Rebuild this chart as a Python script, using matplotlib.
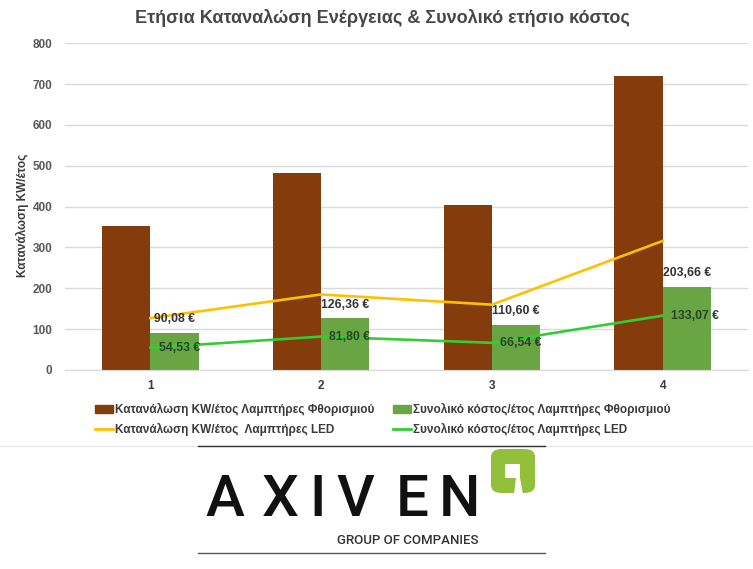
import matplotlib
matplotlib.use("Agg")
import matplotlib.pyplot as plt
import numpy as np
from matplotlib.patches import Patch, FancyBboxPatch, Rectangle, Polygon
from matplotlib.lines import Line2D

plt.rcParams['font.family'] = ['Liberation Sans', 'DejaVu Sans']

# ---------------- data ----------------
categories = ['1', '2', '3', '4']
fluo_kwh = [352, 483, 404, 720]             # Κατανάλωση KW/έτος Λαμπτήρες Φθορισμιού
fluo_cost = [90.08, 126.36, 110.60, 203.66]  # Συνολικό κόστος/έτος Λαμπτήρες Φθορισμιού
led_kwh = [127, 185, 160, 316]               # Κατανάλωση KW/έτος Λαμπτήρες LED
led_cost = [54.53, 81.80, 66.54, 133.07]     # Συνολικό κόστος/έτος Λαμπτήρες LED
yticks = [0, 100, 200, 300, 400, 500, 600, 700, 800]

series_names = ['Κατανάλωση KW/έτος Λαμπτήρες Φθορισμιού',
                'Συνολικό κόστος/έτος Λαμπτήρες Φθορισμιού',
                'Κατανάλωση KW/έτος  Λαμπτήρες LED',
                'Συνολικό κόστος/έτος Λαμπτήρες LED']

BROWN = '#843c0c'
GREEN = '#6aa544'
YELLOW = '#ffc000'
LGREEN = '#33cc33'
TXT = '#3a3a3a'


def euro(v):
    return f"{v:.2f}".replace('.', ',') + ' €'


W, H = 753, 569
fig = plt.figure(figsize=(W / 100, H / 100), dpi=100)
fig.patch.set_facecolor('white')

ax = fig.add_axes([65 / W, 1 - 370 / H, 683 / W, (370 - 43.3) / H])
x = np.arange(len(categories))
bw = 0.283

ax.bar(x - bw / 2, fluo_kwh, bw, color=BROWN, zorder=2)
ax.bar(x + bw / 2, fluo_cost, bw, color=GREEN, zorder=2)
ax.plot(x, led_kwh, color=YELLOW, lw=1.9, zorder=3)
ax.plot(x, led_cost, color=LGREEN, lw=1.9, zorder=3)

for xi, v in zip(x, fluo_cost):
    ax.annotate(euro(v), (xi + bw / 2, v), xytext=(0, 10), textcoords='offset points',
                ha='center', va='center', fontsize=8.8, fontweight='bold', color='#333333', zorder=4)
for xi, v in zip(x, led_cost):
    ax.annotate(euro(v), (xi, v), xytext=(6, 0), textcoords='offset points',
                ha='left', va='center', fontsize=8.8, fontweight='bold', color='#2b432b', zorder=4)

ax.set_xlim(-0.5, len(categories) - 0.5)
ax.set_ylim(0, 800)
ax.set_yticks(yticks)
ax.set_xticks(x)
ax.set_xticklabels(categories)
ax.grid(axis='y', color='#d9d9d9', lw=1, zorder=0)
ax.set_axisbelow(True)
for s in ['top', 'right', 'left']:
    ax.spines[s].set_visible(False)
ax.spines['bottom'].set_color('#d9d9d9')
ax.tick_params(axis='both', length=0)
ax.tick_params(axis='y', pad=9, labelsize=8.5, labelcolor='#595959')
ax.tick_params(axis='x', pad=7, labelsize=8.5, labelcolor=TXT)
for lab in ax.get_xticklabels() + ax.get_yticklabels():
    lab.set_fontweight('bold')

fig.text(22 / W, 1 - 215 / H, 'Κατανάλωση KW/έτος', rotation=90, ha='center', va='center',
         fontsize=8.5, fontweight='bold', color=TXT)
fig.text(382 / W, 1 - 18 / H, 'Ετήσια Καταναλώση Ενέργειας & Συνολικό ετήσιο κόστος',
         ha='center', va='center', fontsize=13, fontweight='bold', color='#474747')

handles = [Patch(color=BROWN), Line2D([], [], color=YELLOW, lw=2),
           Patch(color=GREEN), Line2D([], [], color=LGREEN, lw=2)]
labels = [series_names[0], series_names[2], series_names[1], series_names[3]]
leg = fig.legend(handles, labels, ncol=2, loc='upper left', bbox_to_anchor=(95 / W, 1 - 403 / H),
                 frameon=False, borderpad=0, borderaxespad=0, fontsize=8.5, handlelength=1.5,
                 handletextpad=0.2, columnspacing=1.6, labelspacing=0.62)
for t in leg.get_texts():
    t.set_fontweight('bold')
    t.set_color(TXT)

# ---------------- logo area ----------------
fig.add_artist(Line2D([0, 1], [1 - 446 / H] * 2, color='#e6e6e6', lw=1))
fig.add_artist(Line2D([198 / W, 545 / W], [1 - 446 / H] * 2, color='#333333', lw=1))
fig.add_artist(Line2D([198 / W, 545 / W], [1 - 553 / H] * 2, color='#555555', lw=1))

letters = ['A', 'X', 'I', 'V', 'E', 'N']
letter_x = [225, 280, 318, 355, 412, 459]
for ch, lx in zip(letters, letter_x):
    fig.text(lx / W, 1 - 500 / H, ch, ha='center', va='center', fontsize=42,
             family='Roboto', fontweight='medium', color='#111111')
fig.text(408 / W, 1 - 540 / H, 'GROUP OF COMPANIES', ha='center', va='center',
         fontsize=9.5, family='Roboto', fontweight='medium', color='#333333')

lg = '#93c03a'
fig.add_artist(FancyBboxPatch((491 / W, 1 - 493 / H), 44 / W, 44 / H,
                              boxstyle='round,pad=0,rounding_size=0.014',
                              transform=fig.transFigure, color=lg, lw=0))
fig.add_artist(Rectangle((505 / W, 1 - 478 / H), 15 / W, 14 / H, transform=fig.transFigure,
                         color='white', lw=0))
fig.add_artist(Polygon([(516 / W, 1 - 478 / H), (520 / W, 1 - 478 / H),
                        (523 / W, 1 - 494 / H), (514 / W, 1 - 494 / H)],
                       closed=True, transform=fig.transFigure, color='white', lw=0))

fig.savefig('out.png', dpi=100)
